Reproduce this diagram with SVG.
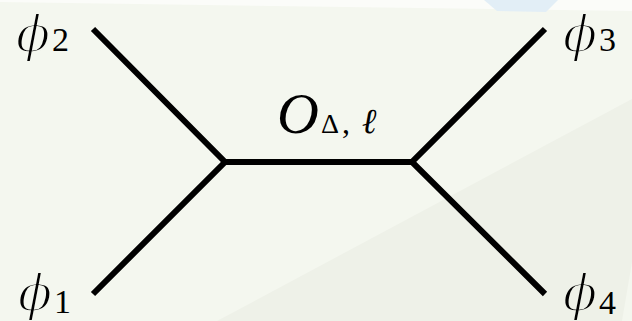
<svg xmlns="http://www.w3.org/2000/svg" width="632" height="321" viewBox="0 0 632 321">
  <style>
    .edge { stroke: #000; stroke-width: 6; fill: none; stroke-linecap: butt; stroke-linejoin: miter; }
    .lbl { font-family: "Liberation Serif", "DejaVu Serif", serif; fill: #000; }
    .phi { font-family: "DejaVu Serif", "Liberation Serif", serif; font-style: italic; font-size: 50px; stroke: #f4f7ef; stroke-width: 1.8px; }
    .phi.dk { stroke: #eef1e8; }
    .sub { font-family: "Liberation Serif", "DejaVu Serif", serif; font-style: normal; font-size: 34px; stroke: none; }
  </style>
  <g id="background">
    <rect x="0" y="0" width="632" height="321" fill="#f4f7ef"/>
    <polygon points="0,0 632,0 632,11 420,8 0,2" fill="#fbfcf9"/>
    <polygon points="484,0 558,0 546,12 497,11" fill="#e2eef6"/>
    <polygon points="217,321 632,99 632,262 622,321" fill="#eef1e8"/>
  </g>
  <g id="connectors">
    <polyline class="edge" points="93,29 225,162 93,294"/>
    <line class="edge" x1="222" y1="162" x2="415" y2="162"/>
    <polyline class="edge" points="545,29 412,162 545,294"/>
  </g>
  <g id="phi2">
    <text class="lbl phi" x="16" y="51">ϕ<tspan class="sub" x="52" y="51">2</tspan></text>
  </g>
  <g id="phi1">
    <text class="lbl phi" x="18" y="310">ϕ<tspan class="sub" x="54" y="313">1</tspan></text>
  </g>
  <g id="phi3">
    <text class="lbl phi" x="563" y="51">ϕ<tspan class="sub" x="599" y="51">3</tspan></text>
  </g>
  <g id="phi4">
    <text class="lbl phi dk" x="563" y="310">ϕ<tspan class="sub" x="599" y="314">4</tspan></text>
  </g>
  <g id="operator">
    <text class="lbl" x="277" y="133" style="font-style:italic;font-size:58px">O<tspan style="font-style:normal;font-size:28px" x="321" y="133">Δ</tspan><tspan style="font-style:normal;font-size:32px" x="342" y="133">,</tspan><tspan style="font-style:italic;font-size:35px" x="362" y="133">ℓ</tspan></text>
  </g>
</svg>
